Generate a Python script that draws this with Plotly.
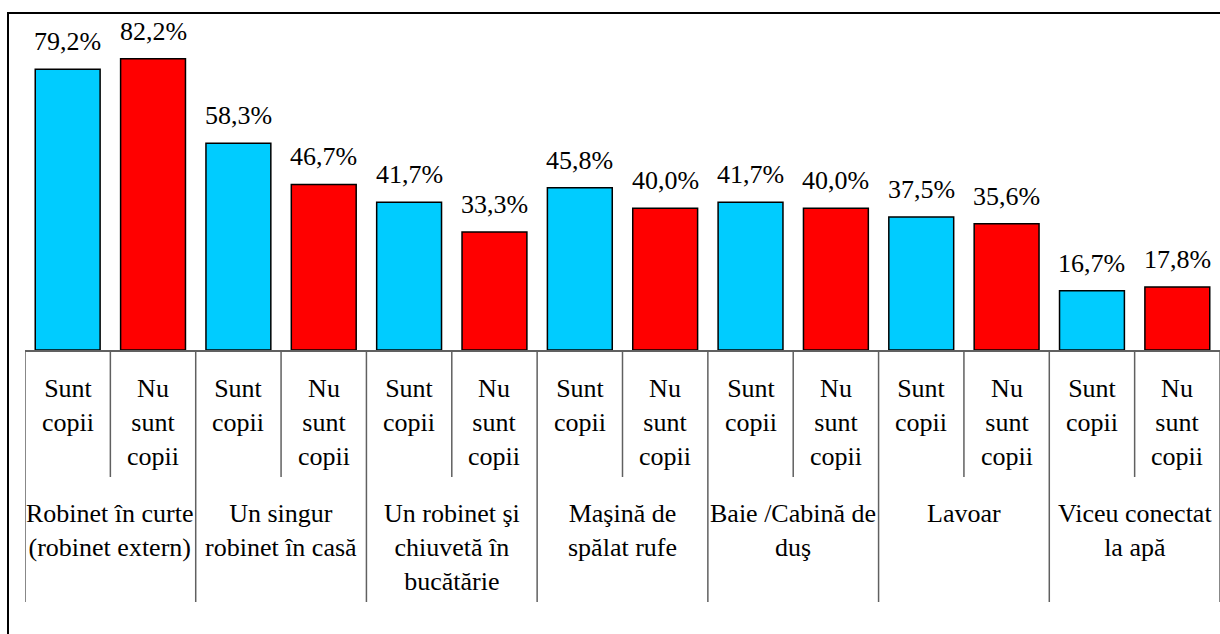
import plotly.graph_objects as go

# ---- data ----
groups = [
    "Robinet în curte<br>(robinet extern)",
    "Un singur<br>robinet în casă",
    "Un robinet şi<br>chiuvetă în<br>bucătărie",
    "Maşină de<br>spălat rufe",
    "Baie /Cabină de<br>duş",
    "Lavoar",
    "Viceu conectat<br>la apă",
]
sub_labels = ["Sunt<br>copii", "Nu<br>sunt<br>copii"]
sunt_copii = [79.2, 58.3, 41.7, 45.8, 41.7, 37.5, 16.7]
nu_sunt_copii = [82.2, 46.7, 33.3, 40.0, 40.0, 35.6, 17.8]

# ---- style ----
FONT = "Liberation Serif"
FS = 26
C_SUNT = "#00CCFF"
C_NU = "#FF0000"
SEP = "#606060"

W, H = 1220, 634
ML, MR, MT, MB = 25, 0, 31, 284
PH = H - MT - MB  # plot height px


def py2paper(py):
    """pixel y (from top of figure) -> paper y"""
    return (H - MB - py) / PH


def fmt(v):
    return f"{v:.1f}".replace(".", ",") + "%"


n = len(groups)
x_sunt = [2 * i for i in range(n)]
x_nu = [2 * i + 1 for i in range(n)]

fig = go.Figure()
fig.add_trace(go.Bar(x=x_sunt, y=sunt_copii, width=0.76,
                     marker=dict(color=C_SUNT, line=dict(color="black", width=1.5)),
                     hoverinfo="skip"))
fig.add_trace(go.Bar(x=x_nu, y=nu_sunt_copii, width=0.76,
                     marker=dict(color=C_NU, line=dict(color="black", width=1.5)),
                     hoverinfo="skip"))

annotations = []
# value labels
for xs, vals in ((x_sunt, sunt_copii), (x_nu, nu_sunt_copii)):
    for x, v in zip(xs, vals):
        annotations.append(dict(x=x, y=v, xref="x", yref="y", text=fmt(v),
                                showarrow=False, yanchor="bottom", yshift=11,
                                font=dict(family=FONT, size=FS, color="black")))
# sub-category labels
for i in range(n):
    for k, lab in enumerate(sub_labels):
        annotations.append(dict(x=2 * i + k, y=py2paper(372), xref="x", yref="paper",
                                text=lab, showarrow=False, yanchor="top",
                                align="center",
                                font=dict(family=FONT, size=FS, color="black")))
# group labels
for i, g in enumerate(groups):
    annotations.append(dict(x=2 * i + 0.5, y=py2paper(497), xref="x", yref="paper",
                            text=g, showarrow=False, yanchor="top", align="center",
                            font=dict(family=FONT, size=FS, color="black")))

shapes = []
# separators
for b in range(2 * n + 1):
    xb = b - 0.5
    ybot = py2paper(602) if b % 2 == 0 else py2paper(477)
    shapes.append(dict(type="line", xref="x", yref="paper", x0=xb, x1=xb,
                       y0=0, y1=ybot, line=dict(color=SEP, width=1.5)))
# outer border
shapes.append(dict(type="rect", xref="paper", yref="paper",
                   x0=(8 - ML) / (W - ML - MR), x1=(W + 5 - ML) / (W - ML - MR),
                   y0=py2paper(H + 5), y1=py2paper(13),
                   line=dict(color="black", width=2), fillcolor="rgba(0,0,0,0)",
                   layer="below"))

fig.update_layout(
    width=W, height=H,
    margin=dict(l=ML, r=MR, t=MT, b=MB),
    paper_bgcolor="white", plot_bgcolor="white",
    font=dict(family=FONT, size=FS, color="black"),
    showlegend=False, barmode="overlay",
    annotations=annotations, shapes=shapes,
    xaxis=dict(range=[-0.5, 2 * n - 0.5], showticklabels=False, ticks="",
               showgrid=False, zeroline=False, showline=True,
               linecolor=SEP, linewidth=1.5),
    yaxis=dict(range=[0, 90], visible=False, showgrid=False, zeroline=False),
)

fig.write_html(
    "out.html",
    config={"displayModeBar": False},
    post_script="document.body.style.margin='0';document.body.style.overflow='hidden';",
)
